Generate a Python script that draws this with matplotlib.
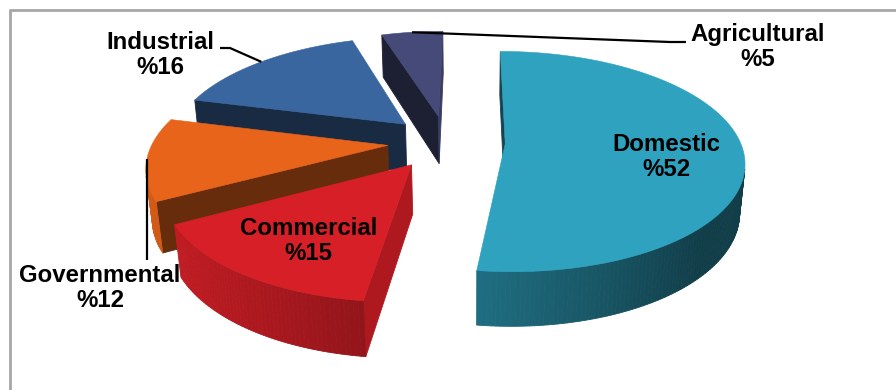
import numpy as np
import matplotlib
matplotlib.use("Agg")
import matplotlib.pyplot as plt
from matplotlib.patches import Polygon
from matplotlib.colors import to_rgb

# ---- data -------------------------------------------------------------
categories = ["Domestic", "Commercial", "Governmental", "Industrial", "Agricultural"]
shares = [52, 15, 12, 16, 5]
top_colors = ["#2EA2BF", "#D71F27", "#E8641B", "#3A66A0", "#464A78"]

# ---- 3-D view settings -------------------------------------------------
W, H = 896, 390
ELEV = np.radians(27.0)      # camera elevation
CAM_D = 5.5                  # camera distance (pie radius units)
CAM_X = 0.10                 # sideways camera offset (pie radius units)
SCALE = 235.0                # pixels per radius at the pie centre depth
CX, CY = 446.5, 142.0        # screen position of the pie centre (top face)
THICK = 0.235                # slab thickness
EXPLODE = 0.25               # radial offset of every slice

S_E, C_E = np.sin(ELEV), np.cos(ELEV)
FOCAL = SCALE * CAM_D
CAM = np.array([CAM_X, -CAM_D * C_E, CAM_D * S_E])


def project(X, Y, Z):
    w = CAM_D + Y * C_E - Z * S_E
    sx = CX + SCALE * CAM_X + FOCAL * (X - CAM_X) / w
    return sx, CY - FOCAL * (Y * S_E + Z * C_E) / w


def shade(rgb, f):
    return tuple(np.clip(np.array(rgb) * f, 0, 1))


def wall_factor(theta):
    return float(np.clip(0.578 + 0.337 * np.cos(np.radians(theta - 260.0)), 0.38, 1.0))


def radial_factor(theta):
    return 0.42 + 0.4 * max(0.0, np.cos(np.radians(theta - 90.0))) ** 4


def visible(normal, point):
    return np.dot(normal, CAM - point) > 0


fig = plt.figure(figsize=(W / 100, H / 100), dpi=100)
ax = fig.add_axes([0, 0, 1, 1])
ax.set_xlim(0, W)
ax.set_ylim(H, 0)
ax.axis("off")

total = float(sum(shares))
bounds = np.concatenate([[0.0], np.cumsum(shares) / total * 360.0])

slices = []
for i, (cat, val) in enumerate(zip(categories, shares)):
    a0, a1 = bounds[i], bounds[i + 1]
    mid = np.radians((a0 + a1) / 2)
    ox, oy = EXPLODE * np.sin(mid), EXPLODE * np.cos(mid)
    slices.append(dict(i=i, a0=a0, a1=a1, ox=ox, oy=oy))

# paint far slices first
order = sorted(slices, key=lambda d: -d["oy"])

for sl in order:
    base = to_rgb(top_colors[sl["i"]])
    a0, a1, ox, oy = sl["a0"], sl["a1"], sl["ox"], sl["oy"]
    n = max(int((a1 - a0) / 1.0), 4)
    th = np.linspace(a0, a1, n + 1)
    tr = np.radians(th)
    ex, ey = ox + np.sin(tr), oy + np.cos(tr)
    faces = []

    # radial side faces
    for ang, nang in ((a0, a0 - 90.0), (a1, a1 + 90.0)):
        r = np.radians(ang)
        nr = np.radians(nang)
        normal = np.array([np.sin(nr), np.cos(nr), 0.0])
        px, py = ox + 0.5 * np.sin(r), oy + 0.5 * np.cos(r)
        if visible(normal, np.array([px, py, -THICK / 2])):
            xs = [ox, ox + np.sin(r), ox + np.sin(r), ox]
            ys = [oy, oy + np.cos(r), oy + np.cos(r), oy]
            zs = [0, 0, -THICK, -THICK]
            sx, sy = project(np.array(xs), np.array(ys), np.array(zs))
            faces.append((np.column_stack([sx, sy]), shade(base, radial_factor(nang))))

    # outer curved wall
    for k in range(n):
        tm = np.radians((th[k] + th[k + 1]) / 2)
        normal = np.array([np.sin(tm), np.cos(tm), 0.0])
        pm = np.array([ox + np.sin(tm), oy + np.cos(tm), -THICK / 2])
        if not visible(normal, pm):
            continue
        xs = np.array([ex[k], ex[k + 1], ex[k + 1], ex[k]])
        ys = np.array([ey[k], ey[k + 1], ey[k + 1], ey[k]])
        zs = np.array([0, 0, -THICK, -THICK])
        sx, sy = project(xs, ys, zs)
        col = shade(base, wall_factor((th[k] + th[k + 1]) / 2))
        faces.append((np.column_stack([sx, sy]), col))

    for poly, col in faces:
        ax.add_patch(Polygon(poly, closed=True, facecolor=col, edgecolor=col,
                             linewidth=0.6, antialiased=True))

    # top face
    tx = np.concatenate([[ox], ex])
    ty = np.concatenate([[oy], ey])
    sx, sy = project(tx, ty, np.zeros_like(tx))
    ax.add_patch(Polygon(np.column_stack([sx, sy]), closed=True, facecolor=base,
                         edgecolor=base, linewidth=0.4))
    sl["anchor"] = project(ox + np.sin(np.radians((a0 + a1) / 2)),
                           oy + np.cos(np.radians((a0 + a1) / 2)), 0.0)

# ---- labels -------------------------------------------------------------
label_pos = {"Domestic": (666, 157), "Commercial": (308.5, 241),
             "Governmental": (100, 288), "Industrial": (160, 55),
             "Agricultural": (758, 47)}
leader_elbow = {"Industrial": [(230, 48), (220, 48)],
                "Agricultural": [(670, 42), (686, 42)],
                "Governmental": [(None, 260)]}

font = dict(family=["Liberation Sans", "DejaVu Sans"], fontsize=17.3,
            fontweight="bold", color="black")
for sl in slices:
    cat = categories[sl["i"]]
    x, y = label_pos[cat]
    ax.text(x, y, f"{cat}\n%{shares[sl['i']]}", ha="center", va="center",
            linespacing=1.12, **font)
    if cat in leader_elbow:
        axp, ayp = sl["anchor"]
        pts = [(axp, ayp)]
        for px, py in leader_elbow[cat]:
            pts.append((axp if px is None else px, py))
        pts = np.array(pts)
        ax.plot(pts[:, 0], pts[:, 1], color="black", lw=1.6, solid_capstyle="butt")

# chart frame
ax.plot([9.5, 9.5, W], [H, 9.5, 9.5], color="#a6a6a6", lw=2.0, solid_capstyle="butt")

fig.savefig("out.png", dpi=100)
